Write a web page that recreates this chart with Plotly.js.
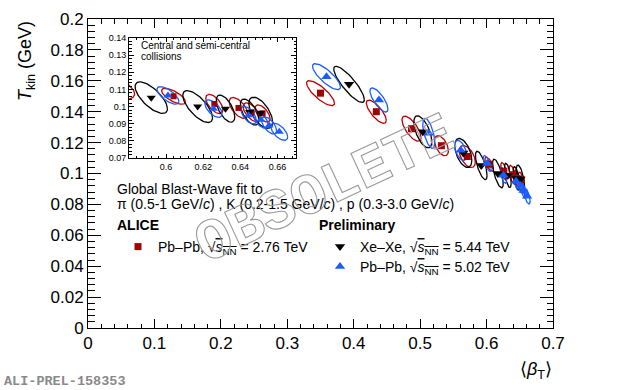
<!DOCTYPE html>
<html><head><meta charset="utf-8">
<script src="https://cdn.plot.ly/plotly-3.0.1.min.js"></script>
<style>html,body{margin:0;padding:0;background:#fff}#chart{width:620px;height:390px}</style>
</head><body><div id="chart"></div>
<script>
// ---- data ----
// Pb-Pb 2.76 TeV (red squares)
const pb276_beta = [0.350, 0.434, 0.487, 0.532, 0.571, 0.604, 0.626, 0.639, 0.646, 0.652];
const pb276_tkin = [0.152, 0.140, 0.129, 0.118, 0.111, 0.106, 0.1015, 0.0992, 0.0967, 0.0960];
const pb276_sbeta = [0.021, 0.015, 0.0143, 0.0105, 0.012, 0.0064, 0.0046, 0.005, 0.0045, 0.004];
const pb276_stkin = [0.0081, 0.0075, 0.0081, 0.0065, 0.0071, 0.0046, 0.0056, 0.0061, 0.0055, 0.005];
const pb276_rho = [-0.8, -0.75, -0.7, -0.5, -0.5, -0.7, -0.6, -0.6, -0.6, -0.6];
// Xe-Xe 5.44 TeV (black down triangles)
const xe544_beta = [0.393, 0.504, 0.565, 0.592, 0.617, 0.632, 0.645, 0.651];
const xe544_tkin = [0.1577, 0.127, 0.1133, 0.1052, 0.1000, 0.0988, 0.0968, 0.0964];
const xe544_sbeta = [0.023, 0.0135, 0.0128, 0.0087, 0.008, 0.005, 0.005, 0.0064];
const xe544_stkin = [0.0117, 0.0104, 0.0094, 0.0092, 0.0093, 0.0079, 0.0076, 0.0091];
const xe544_rho = [-0.85, -0.6, -0.5, -0.7, -0.7, -0.6, -0.6, -0.6];
// Pb-Pb 5.02 TeV (blue up triangles)
const pb502_beta = [0.359, 0.438, 0.513, 0.561, 0.601, 0.6255, 0.6445, 0.651, 0.6555, 0.661];
const pb502_tkin = [0.1627, 0.1476, 0.126, 0.115, 0.1065, 0.0988, 0.095, 0.0923, 0.0890, 0.0853];
const pb502_sbeta = [0.021, 0.0135, 0.009, 0.009, 0.0059, 0.0046, 0.0041, 0.004, 0.004, 0.0045];
const pb502_stkin = [0.0084, 0.0078, 0.0097, 0.0065, 0.0051, 0.0051, 0.0051, 0.005, 0.005, 0.005];
const pb502_rho = [-0.8, -0.75, -0.6, -0.5, -0.7, -0.6, -0.6, -0.6, -0.6, -0.6];

const mainXTicks = [0, 0.1, 0.2, 0.3, 0.4, 0.5, 0.6, 0.7];
const insetXTicks = [0.6, 0.62, 0.64, 0.66];

// ---- layout helpers ----
const W = 620, H = 390, ML = 88, MR = 67, MT = 19, MB = 62;
const PW = W - ML - MR, PH = H - MT - MB;
const fx = p => (p - ML) / PW;
const fy = p => (H - MB - p) / PH;
const FONT = 'Liberation Sans, Arial, Helvetica, sans-serif';

const RED = '#a00000', RED_L = '#c00000', BLACK = '#000000', BLUE = '#1a5cff';

// covariance ellipse outline through data coordinates
function ellipses(cx, cy, sx, sy, rho) {
  const X = [], Y = [];
  const n = 72;
  for (let i = 0; i < cx.length; i++) {
    const r = rho[i], q = Math.sqrt(1 - r * r);
    for (let k = 0; k <= n; k++) {
      const t = 2 * Math.PI * k / n;
      X.push(cx[i] + sx[i] * Math.cos(t));
      Y.push(cy[i] + sy[i] * (r * Math.cos(t) + q * Math.sin(t)));
    }
    X.push(null); Y.push(null);
  }
  return {X, Y};
}

const SQ = '√<span style="text-decoration:overline"><i>s</i><sub>NN</sub></span>';
const series = [
  {bx: pb276_beta, ty: pb276_tkin, sx: pb276_sbeta, sy: pb276_stkin, rho: pb276_rho,
   color: RED, lcolor: RED_L, symbol: 'square', size: 7, isize: 6, legend: 'legend',
   name: 'Pb–Pb, ' + SQ + ' = 2.76 TeV'},
  {bx: xe544_beta, ty: xe544_tkin, sx: xe544_sbeta, sy: xe544_stkin, rho: xe544_rho,
   color: BLACK, lcolor: BLACK, symbol: 'triangle-down', size: 9, isize: 8, legend: 'legend2',
   name: 'Xe–Xe, ' + SQ + ' = 5.44 TeV'},
  {bx: pb502_beta, ty: pb502_tkin, sx: pb502_sbeta, sy: pb502_stkin, rho: pb502_rho,
   color: BLUE, lcolor: BLUE, symbol: 'triangle-up', size: 9, isize: 8, legend: 'legend3',
   name: 'Pb–Pb, ' + SQ + ' = 5.02 TeV'}
];

const traces = [];
series.forEach(s => {
  const e = ellipses(s.bx, s.ty, s.sx, s.sy, s.rho);
  traces.push({x: e.X, y: e.Y, mode: 'lines', type: 'scatter', line: {color: s.lcolor, width: 1.3},
    showlegend: false, hoverinfo: 'skip', xaxis: 'x', yaxis: 'y'});
  traces.push({x: e.X, y: e.Y, mode: 'lines', type: 'scatter', line: {color: s.lcolor, width: 1.3},
    showlegend: false, hoverinfo: 'skip', xaxis: 'x2', yaxis: 'y2'});
});
series.forEach(s => {
  traces.push({x: s.bx, y: s.ty, mode: 'markers', type: 'scatter', name: s.name, legend: s.legend,
    marker: {symbol: s.symbol, size: s.size, color: s.color, line: {width: 0}}, xaxis: 'x', yaxis: 'y'});
  traces.push({x: s.bx, y: s.ty, mode: 'markers', type: 'scatter', showlegend: false,
    marker: {symbol: s.symbol, size: s.isize, color: s.color, line: {width: 0}}, xaxis: 'x2', yaxis: 'y2'});
});

const ax = {
  showline: true, linecolor: '#000', linewidth: 1, mirror: 'allticks', showgrid: false, zeroline: false,
  ticks: 'inside', tickcolor: '#000', tickwidth: 1,
  tickfont: {family: FONT, size: 17, color: '#000'}
};

const legendBase = {xanchor: 'left', yanchor: 'middle', bgcolor: 'rgba(0,0,0,0)', borderwidth: 0,
  font: {family: FONT, size: 14, color: '#000'}, itemwidth: 30};

const ann = [];
function txt(text, x, y, opt) {
  ann.push(Object.assign({text, x: fx(x), y: fy(y), xref: 'paper', yref: 'paper', showarrow: false,
    xanchor: 'left', yanchor: 'middle', font: {family: FONT, size: 14, color: '#000'}}, opt || {}));
}
txt('Global Blast-Wave fit to', 115, 189);
txt('π (0.5-1 GeV/<i>c</i>) , K (0.2-1.5 GeV/<i>c</i>) , p (0.3-3.0 GeV/<i>c</i>)', 115, 204);
txt('<b>ALICE</b>', 115, 225);
txt('<b>Preliminary</b>', 317, 225);
txt('Central and semi-central', 139, 45, {font: {family: FONT, size: 10, color: '#000'}});
txt('collisions', 139, 56, {font: {family: FONT, size: 10, color: '#000'}});
txt('<i>T</i><sub>kin</sub> (GeV)', 26, 19, {textangle: -90, xanchor: 'center', yanchor: 'top',
  font: {family: FONT, size: 18, color: '#000'}});
txt('⟨<i>β</i><sub>T</sub>⟩', 554, 370, {xanchor: 'right', font: {family: FONT, size: 18, color: '#000'}});
txt('<b>ALI-PREL-158353</b>', 2, 381, {font: {family: 'Liberation Mono, Courier New, monospace', size: 13.5, color: '#8a8a8a'}});
txt('<b>OBSOLETE</b>', 325, 190, {xanchor: 'center', textangle: -25,
  font: {family: 'Liberation Mono, Courier New, monospace', size: 58, color: '#9a9a9a'}});

const layout = {
  width: W, height: H, margin: {l: ML, r: MR, t: MT, b: MB, pad: 0},
  paper_bgcolor: '#fff', plot_bgcolor: '#fff', showlegend: true,
  xaxis: Object.assign({}, ax, {range: [0, 0.7], tickvals: mainXTicks, ticklen: 9,
    minor: {dtick: 0.02, ticklen: 4.5, ticks: 'inside', tickcolor: '#000'}, anchor: 'y', domain: [0, 1]}),
  yaxis: Object.assign({}, ax, {range: [0, 0.2], dtick: 0.02, tick0: 0, ticklen: 13,
    minor: {dtick: 0.004, ticklen: 6.5, ticks: 'inside', tickcolor: '#000'}, anchor: 'x', domain: [0, 1]}),
  xaxis2: Object.assign({}, ax, {range: [0.58, 0.67], tickvals: insetXTicks, ticklen: 4, anchor: 'y2',
    domain: [fx(129), fx(296)], tickfont: {family: FONT, size: 9, color: '#000'},
    minor: {dtick: 0.004, ticklen: 2, ticks: 'inside', tickcolor: '#000'}}),
  yaxis2: Object.assign({}, ax, {range: [0.07, 0.14], dtick: 0.01, tick0: 0.07, ticklen: 5, anchor: 'x2',
    domain: [fy(158), fy(38)], tickfont: {family: FONT, size: 9, color: '#000'},
    minor: {dtick: 0.002, ticklen: 2.5, ticks: 'inside', tickcolor: '#000'}}),
  legend: Object.assign({}, legendBase, {x: fx(118), y: fy(247)}),
  legend2: Object.assign({}, legendBase, {x: fx(320), y: fy(247)}),
  legend3: Object.assign({}, legendBase, {x: fx(320), y: fy(267)}),
  shapes: [{type: 'rect', xref: 'paper', yref: 'paper', x0: fx(129), x1: fx(296), y0: fy(158), y1: fy(38),
    fillcolor: '#fff', line: {width: 0}, layer: 'below'}],
  annotations: ann
};

Plotly.newPlot('chart', traces, layout, {staticPlot: true, displayModeBar: false}).then(gd => {
  // draw the watermark as hollow outlined letters
  gd.querySelectorAll('.annotation-text').forEach(el => {
    if (el.textContent.indexOf('OBSOLETE') >= 0) {
      el.style.fill = 'none';
      el.style.stroke = '#9a9a9a';
      el.style.strokeWidth = '1.1px';
      el.querySelectorAll('tspan').forEach(t => { t.style.fill = 'none'; });
    }
  });
});
</script></body></html>
